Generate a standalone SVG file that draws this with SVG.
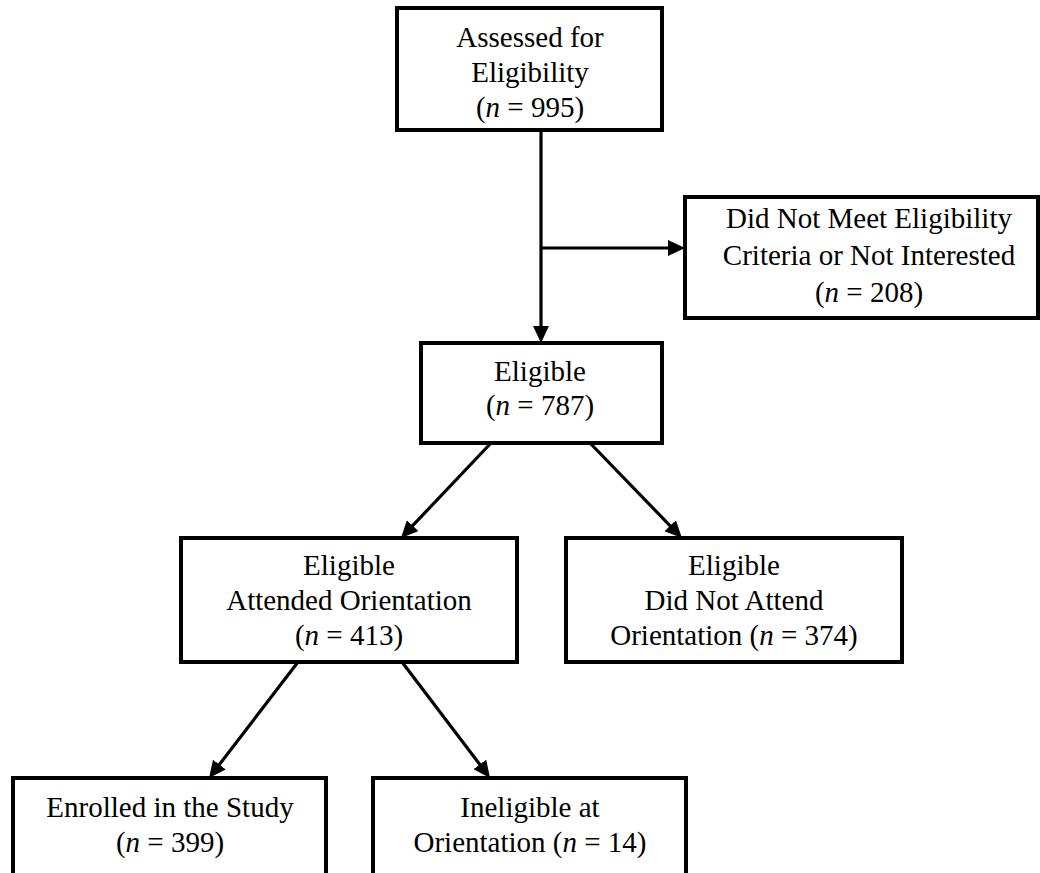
<svg xmlns="http://www.w3.org/2000/svg" width="1040" height="873" viewBox="0 0 1040 873">
<defs>
<marker id="ah" viewBox="0 0 17 16" refX="7" refY="8" markerWidth="17" markerHeight="16" markerUnits="userSpaceOnUse" orient="auto">
<path d="M0,0 L17,8 L0,16 z" fill="#000"/>
</marker>
<style>
.box{fill:#fff;stroke:#000;stroke-width:4}
.t{font-family:"Liberation Serif","Times New Roman",serif;font-size:29px;fill:#000;text-anchor:middle}
.e{stroke:#000;stroke-width:3.2;fill:none}
.a{marker-end:url(#ah)}
</style>
</defs>
<rect width="1040" height="873" fill="#fff"/>
<g id="connectors">
<line class="e a" x1="541" y1="130" x2="541" y2="333"/>
<line class="e a" x1="541" y1="248" x2="675" y2="248"/>
<line class="e a" x1="491" y1="443" x2="407.9" y2="530.7"/>
<line class="e a" x1="590" y1="443" x2="675" y2="530.8"/>
<line class="e a" x1="298" y1="662" x2="215.1" y2="770.1"/>
<line class="e a" x1="402" y1="662" x2="484" y2="770"/>
</g>
<g id="assessed">
<rect class="box" x="397" y="8" width="265" height="122"/>
<text class="t" x="530" y="47">Assessed for</text>
<text class="t" x="530" y="82">Eligibility</text>
<text class="t" x="530" y="117">(<tspan font-style="italic">n</tspan> = 995)</text>
</g>
<g id="excluded">
<rect class="box" x="685" y="197" width="353" height="121"/>
<text class="t" x="869" y="228">Did Not Meet Eligibility</text>
<text class="t" x="869" y="265">Criteria or Not Interested</text>
<text class="t" x="869" y="302">(<tspan font-style="italic">n</tspan> = 208)</text>
</g>
<g id="eligible">
<rect class="box" x="421" y="343" width="241" height="100"/>
<text class="t" x="540" y="381">Eligible</text>
<text class="t" x="540" y="415">(<tspan font-style="italic">n</tspan> = 787)</text>
</g>
<g id="attended">
<rect class="box" x="181" y="538" width="336" height="124"/>
<text class="t" x="349" y="575">Eligible</text>
<text class="t" x="349" y="610">Attended Orientation</text>
<text class="t" x="349" y="645">(<tspan font-style="italic">n</tspan> = 413)</text>
</g>
<g id="notattend">
<rect class="box" x="566" y="538" width="336" height="124"/>
<text class="t" x="734" y="575">Eligible</text>
<text class="t" x="734" y="610">Did Not Attend</text>
<text class="t" x="734" y="645">Orientation (<tspan font-style="italic">n</tspan> = 374)</text>
</g>
<g id="enrolled">
<rect class="box" x="13" y="778" width="313" height="110"/>
<text class="t" x="170" y="817">Enrolled in the Study</text>
<text class="t" x="170" y="852">(<tspan font-style="italic">n</tspan> = 399)</text>
</g>
<g id="ineligible">
<rect class="box" x="373" y="778" width="313" height="110"/>
<text class="t" x="530" y="817">Ineligible at</text>
<text class="t" x="530" y="852">Orientation (<tspan font-style="italic">n</tspan> = 14)</text>
</g>
</svg>
